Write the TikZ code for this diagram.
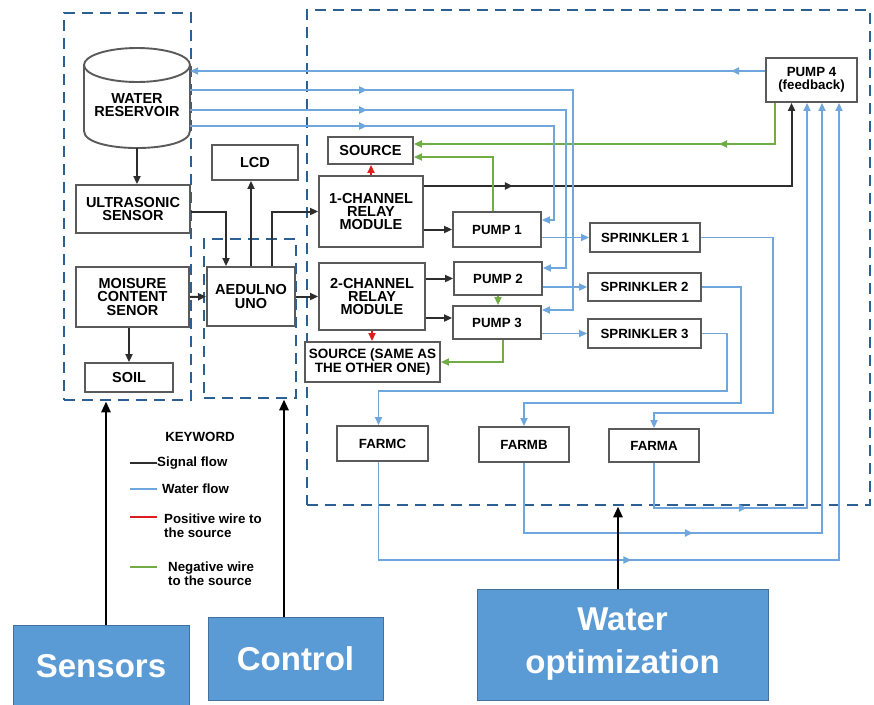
\documentclass[tikz,border=0pt]{standalone}
\usepackage{fontspec}
\setmainfont{Liberation Sans}
\usetikzlibrary{arrows.meta, decorations.markings, positioning}

\definecolor{boxgray}{RGB}{90,90,90}
\definecolor{sigcol}{RGB}{45,45,45}
\definecolor{watcol}{RGB}{111,166,221}
\definecolor{poscol}{RGB}{222,30,30}
\definecolor{negcol}{RGB}{112,173,71}
\definecolor{grpcol}{RGB}{45,96,146}
\definecolor{tabfill}{RGB}{91,155,213}
\definecolor{tabline}{RGB}{65,113,156}

\tikzset{
  blk/.style={draw=boxgray, line width=1.9pt, fill=white, align=center, inner sep=0pt,
    font=\fontsize{14.5}{13.3}\selectfont\bfseries},
  blks/.style={blk, font=\fontsize{13.3}{13.3}\selectfont\bfseries},
  grp/.style={draw=grpcol, line width=2.8pt, dash pattern=on 11pt off 7pt},
  tab/.style={draw=tabline, line width=1pt, fill=tabfill, text=white, align=center,
    font=\fontsize{33}{43}\selectfont\bfseries},
  keytext/.style={inner sep=0pt, align=left, font=\fontsize{13.3}{14}\selectfont\bfseries},
  arrtip/.style={-{Triangle[length=8pt,width=7pt]}},
  sig/.style={color=sigcol, line width=2pt, arrtip},
  water/.style={color=watcol, line width=1.8pt, arrtip},
  poswire/.style={color=poscol, line width=1.8pt, arrtip},
  negwire/.style={color=negcol, line width=1.8pt, arrtip},
  upflow/.style={color=black, line width=2.8pt, -{Triangle[length=11pt,width=9pt]}},
  midtip/.style={postaction={decorate}, decoration={markings,
    mark=at position #1 with {\arrow{Triangle[length=8pt,width=7pt]}}}}
}

\begin{document}
\begin{tikzpicture}[x=1pt, y=-1pt]
  \useasboundingbox (0,0) rectangle (874,704);

  % dashed groups
  \node[grp, minimum width=127, minimum height=387] (gsens) at (127.5,206.5) {};
  \node[grp, minimum width=92, minimum height=159] (gctrl) at (250,318.5) {};
  \node[grp, minimum width=563, minimum height=495] (gwat) at (588.5,257.5) {};

  % reservoir
  \fill[white] (84,65) -- (84,131) .. controls (84,153.7) and (190,153.7) .. (190,131) -- (190,65) -- cycle;
  \draw[boxgray, line width=1.9pt] (84,65) -- (84,131) .. controls (84,153.7) and (190,153.7) .. (190,131) -- (190,65);
  \filldraw[fill=white, draw=boxgray, line width=1.9pt] (137,65) ellipse [x radius=53pt, y radius=17pt];
  \node[align=center, inner sep=0pt, font=\fontsize{14.5}{13.3}\selectfont\bfseries,
    minimum width=106, minimum height=86] (res) at (137,105) {WATER\\RESERVOIR};

  % sensors and control
  \node[blk, minimum width=114, minimum height=48] (ultra) at (133,209) {ULTRASONIC\\SENSOR};
  \node[blk, minimum width=113, minimum height=60] (moist) at (132.5,297) {MOISURE\\CONTENT\\SENOR};
  \node[blk, minimum width=88, minimum height=29] (soil) at (129,377.5) {SOIL};
  \node[blk, minimum width=86, minimum height=35] (lcd) at (255,162.5) {LCD};
  \node[blk, minimum width=88, minimum height=59] (ard) at (251,296.5) {AEDULNO\\UNO};

  % relays and sources
  \node[blk, minimum width=85, minimum height=27] (src1) at (370.5,150.5) {SOURCE};
  \node[blk, minimum width=104, minimum height=71] (rel1) at (371,211.5) {1-CHANNEL\\RELAY\\MODULE};
  \node[blk, minimum width=106, minimum height=67] (rel2) at (372,296.5) {2-CHANNEL\\RELAY\\MODULE};
  \node[blk, font=\fontsize{13.5}{13.3}\selectfont\bfseries, minimum width=135, minimum height=40] (src2) at (372.5,362) {SOURCE (SAME AS\\THE OTHER ONE)};

  % pumps
  \node[blks, minimum width=88, minimum height=35] (p1) at (497,229.5) {PUMP 1};
  \node[blks, minimum width=88, minimum height=33] (p2) at (498,278.5) {PUMP 2};
  \node[blks, minimum width=88, minimum height=33] (p3) at (497,322.5) {PUMP 3};
  \node[blks, minimum width=91, minimum height=44] (p4) at (811.5,80) {PUMP 4\\(feedback)};

  % sprinklers and farms
  \node[blks, minimum width=110, minimum height=29] (spr1) at (645,237.5) {SPRINKLER 1};
  \node[blks, minimum width=113, minimum height=28] (spr2) at (644.5,287) {SPRINKLER 2};
  \node[blks, minimum width=113, minimum height=29] (spr3) at (644.5,333.5) {SPRINKLER 3};
  \node[blks, minimum width=91, minimum height=35] (farmc) at (382.5,443.5) {FARMC};
  \node[blks, minimum width=90, minimum height=35] (farmb) at (524,444.5) {FARMB};
  \node[blks, minimum width=90, minimum height=33] (farma) at (654,445.5) {FARMA};

  % signal flow
  \draw[sig] (res.south) -- (res.south |- ultra.north);
  \draw[sig] (soil.north |- moist.south) -- (soil.north);
  \draw[sig] ([yshift=-3]ultra.east) -| ([xshift=-25]ard.north);
  \draw[sig] (moist.east) -- (ard.west);
  \draw[sig] (ard.north) -- (ard.north |- lcd.south);
  \draw[sig] ([xshift=21]ard.north) |- (rel1.west);
  \draw[sig] (ard.east) -- (rel2.west);
  \draw[sig] (rel1.east |- p1.west) -- (p1.west);
  \draw[sig] (rel2.east |- p2.west) -- (p2.west);
  \draw[sig] (rel2.east |- 0,318) -- (p3.west |- 0,318);
  \draw[sig, midtip=89pt] (rel1.east |- 0,186) -| ([xshift=-20]p4.south);

  % positive and negative wires
  \draw[poswire] (rel1.north) -- (rel1.north |- src1.south);
  \draw[poswire] (rel2.south) -- (rel2.south |- src2.north);
  \draw[negwire] ([xshift=-4]p1.north) |- ([yshift=-6.5]src1.east);
  \draw[negwire, midtip=97pt] ([xshift=-36.5]p4.south) |- ([yshift=6.5]src1.east);
  \draw[negwire] (p2.south) -- (p2.south |- p3.north);
  \draw[negwire] ([xshift=6]p3.south) |- (src2.east);

  % water flow
  \draw[water, midtip=34pt] ([yshift=9]p4.west) -- (res.east |- 0,71);
  \draw[water, midtip=177pt] (res.east |- 0,90) -| (573,310) -- (p3.east |- 0,310);
  \draw[water, midtip=177pt] (res.east |- 0,110) -| (566,268) -- (p2.east |- 0,268);
  \draw[water, midtip=177pt] (res.east |- 0,126) -| (554,220) -- (p1.east |- 0,220);
  \draw[water] (p1.east |- spr1.west) -- (spr1.west);
  \draw[water] (p2.east |- spr2.west) -- (spr2.west);
  \draw[water] (p3.east |- spr3.west) -- (spr3.west);
  \draw[water] (spr1.east) -| (773,413) -| (farma.north);
  \draw[water] (spr2.east) -| (741,403) -| (farmb.north);
  \draw[water] (spr3.east) -| (727,391) -| ([xshift=-4]farmc.north);
  \draw[water, midtip=138pt] (farma.south) |- (807,508) -- ([xshift=-4.5]p4.south);
  \draw[water, midtip=239pt] (farmb.south) |- (822,533) -- ([xshift=10.5]p4.south);
  \draw[water, midtip=351pt] ([xshift=-4]farmc.south) |- (839,560) -- ([xshift=27.5]p4.south);

  % keyword
  \node[keytext] (kword) at (200,437) {KEYWORD};
  \node[keytext, anchor=west] (ksig) at (157,463) {Signal flow};
  \node[keytext, anchor=west] (kwat) at (162,489) {Water flow};
  \node[keytext, anchor=north west] (kpos) at (164,514) {Positive wire to\\the source};
  \node[keytext, anchor=north west] (kneg) at (168,562) {Negative wire\\to the source};
  \draw[sigcol, line width=2.2pt] (130,463) -- (157,463);
  \draw[watcol, line width=2.2pt] (130,489) -- (157,489);
  \draw[poscol, line width=2.2pt] (130,517) -- (157,517);
  \draw[negcol, line width=2.2pt] (130,567) -- (157,567);

  % layers
  \node[tab, minimum width=176, minimum height=82] (sens) at (101,666) {Sensors};
  \node[tab, minimum width=175, minimum height=83] (ctrl) at (295.5,658.5) {Control};
  \node[tab, minimum width=291, minimum height=111] (wopt) at (622.5,644.5) {Water\\optimization};
  \draw[upflow] ([xshift=5]sens.north) -- ([xshift=5]sens.north |- gsens.south);
  \draw[upflow] ([xshift=-11.5]ctrl.north) -- ([xshift=-11.5]ctrl.north |- gctrl.south);
  \draw[upflow] ([xshift=-4.5]wopt.north) -- ([xshift=-4.5]wopt.north |- gwat.south);
\end{tikzpicture}
\end{document}
